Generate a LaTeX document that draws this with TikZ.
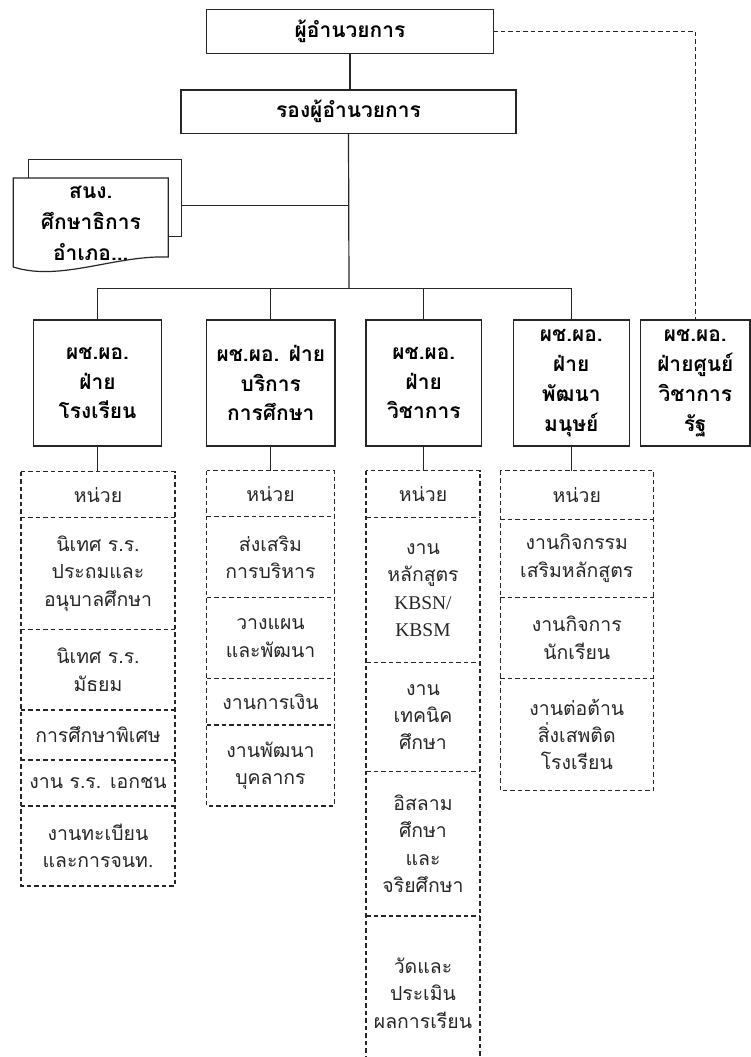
\documentclass[tikz,border=0pt]{standalone}
\usepackage{fontspec}
\setmainfont{Liberation Serif}
\newfontfamily\thaifont[Script=Thai]{Loma}
\newfontfamily\latinfont{Liberation Serif}
\usetikzlibrary{positioning}

\begin{document}
\begin{tikzpicture}[x=1bp,y=-1bp,node distance=0pt]
\tikzstyle{every node}=[outer sep=0pt,inner sep=0pt,font=\thaifont]
\tikzstyle{boss}=[draw=black!85,line width=1.3bp,fill=white,align=center,font=\thaifont\bfseries\fontsize{21}{30}\selectfont]
\tikzstyle{head}=[boss,minimum height=126bp]
\tikzstyle{unit}=[align=center,text=black!85,font=\thaifont\fontsize{19.5}{27.5}\selectfont]
\tikzstyle{dashline}=[draw=black!85,dash pattern=on 4.5bp off 3bp,line width=1.1bp]
\tikzstyle{wire}=[draw=black!85,line width=1.2bp]
\useasboundingbox (0,0) rectangle (751,1057);
\clip (0,0) rectangle (751,1057);

% top of the chart
\node[boss,minimum width=286.6bp,minimum height=44bp] (dir) at (350,31.3) {ผู้อำนวยการ};
\node[boss,minimum width=335bp,minimum height=43.3bp] (vice) at (348.5,111.7) {รองผู้อำนวยการ};
\coordinate (bus) at (349,288.3);

% district office (document)
\node[draw=black!85,line width=1.2bp,fill=white,minimum width=153.4bp,minimum height=77.4bp] (docback) at (105,198) {};
\node[fill=white,align=center,minimum width=155bp,minimum height=90bp,
  font=\thaifont\bfseries\fontsize{21}{31}\selectfont] (doc) at (90.8,223) {สนง.\\ศึกษาธิการ\\อำเภอ...};
\draw[wire] ([yshift=1bp]doc.south west) -- (doc.north west) -- (doc.north east)
  -- ([yshift=11bp]doc.south east) .. controls +(-53.3,-2) and +(46.7,15) .. ([yshift=1bp]doc.south west);

% deputies
\node[head,minimum width=128.4bp] (h1) at (97.5,383) {ผช.ผอ.\\ฝ่าย\\โรงเรียน};
\node[head,minimum width=128.3bp] (h2) at (270.8,383) {ผช.ผอ. ฝ่าย\\บริการ\\การศึกษา};
\node[head,minimum width=115.7bp] (h3) at (423.8,383) {ผช.ผอ.\\ฝ่าย\\วิชาการ};
\node[head,minimum width=116bp] (h4) at (571.3,383) {ผช.ผอ.\\ฝ่าย\\พัฒนา\\มนุษย์};
\node[head,minimum width=109.3bp] (h5) at (695.3,383) {ผช.ผอ.\\ฝ่ายศูนย์\\วิชาการ\\รัฐ};

% units
\node[unit,minimum width=154bp,minimum height=46bp,anchor=north] (u11) at (98,471.7) {หน่วย};
\node[unit,minimum width=154bp,minimum height=111.6bp,below=of u11] (u12) {นิเทศ ร.ร.\\ประถมและ\\อนุบาลศึกษา};
\node[unit,minimum width=154bp,minimum height=80.7bp,below=of u12] (u13) {นิเทศ ร.ร.\\มัธยม};
\node[unit,minimum width=154bp,minimum height=50bp,below=of u13] (u14) {การศึกษาพิเศษ};
\node[unit,minimum width=154bp,minimum height=46bp,below=of u14] (u15) {งาน ร.ร. เอกชน};
\node[unit,minimum width=154bp,minimum height=80bp,below=of u15] (u16) {งานทะเบียน\\และการจนท.};

\node[unit,minimum width=127.6bp,minimum height=46bp,anchor=north] (u21) at (270.5,470.7) {หน่วย};
\node[unit,minimum width=127.6bp,minimum height=81bp,below=of u21] (u22) {ส่งเสริม\\การบริหาร};
\node[unit,minimum width=127.6bp,minimum height=80.6bp,below=of u22] (u23) {วางแผน\\และพัฒนา};
\node[unit,minimum width=127.6bp,minimum height=46.7bp,below=of u23] (u24) {งานการเงิน};
\node[unit,minimum width=127.6bp,minimum height=81bp,below=of u24] (u25) {งานพัฒนา\\บุคลากร};

\node[unit,minimum width=114bp,minimum height=47bp,anchor=north] (u31) at (423,470.7) {หน่วย};
\node[unit,minimum width=114bp,minimum height=144.6bp,below=of u31] (u32) {งาน\\หลักสูตร\\{\latinfont KBSN/}\\{\latinfont KBSM}};
\node[unit,minimum width=114bp,minimum height=109.4bp,below=of u32] (u33) {งาน\\เทคนิค\\ศึกษา};
\node[unit,minimum width=114bp,minimum height=144.3bp,below=of u33] (u34) {อิสลาม\\ศึกษา\\และ\\จริยศึกษา};
\node[unit,minimum width=114bp,minimum height=154bp,below=of u34] (u35) {วัดและ\\ประเมิน\\ผลการเรียน};

\node[unit,minimum width=153.5bp,minimum height=48.6bp,anchor=north] (u41) at (576.8,470.7) {หน่วย};
\node[unit,minimum width=153.5bp,minimum height=78bp,below=of u41] (u42) {งานกิจกรรม\\เสริมหลักสูตร};
\node[unit,minimum width=153.5bp,minimum height=81bp,below=of u42] (u43) {งานกิจการ\\นักเรียน};
\node[unit,minimum width=153.5bp,minimum height=112.4bp,below=of u43] (u44) {งานต่อต้าน\\สิ่งเสพติด\\โรงเรียน};

% dashed frames of the unit columns
\draw[dashline] (u11.north west) rectangle (u16.south east);
\draw[dashline] (u21.north west) rectangle (u25.south east);
\draw[dashline] (u31.north west) rectangle (u35.south east);
\draw[dashline] (u41.north west) rectangle (u44.south east);
\foreach \c in {u12,u13,u14,u15,u16,u22,u23,u24,u25,u32,u33,u34,u35,u42,u43,u44}
  \draw[dashline] (\c.north west) -- (\c.north east);

% connectors
\draw[wire] (dir.south) -- (dir.south |- vice.north);
\draw[wire] (vice.south) -- (bus);
\draw[wire] ([yshift=-7.7bp]docback.east) -- ([yshift=-7.7bp]docback.east -| bus);
\draw[wire] (h1.north) |- (bus) -| (h4.north);
\draw[wire] (h2.north) -- (h2.north |- bus);
\draw[wire] (h3.north) -- (h3.north |- bus);
\draw[wire,dash pattern=on 4.5bp off 3bp] (dir.east) -| (h5.north);
\draw[wire] (h1.south) -- (h1.south |- u11.north);
\draw[wire] (h2.south) -- (h2.south |- u21.north);
\draw[wire] (h3.south) -- (h3.south |- u31.north);
\draw[wire] (h4.south) -- (h4.south |- u41.north);
\end{tikzpicture}
\end{document}
